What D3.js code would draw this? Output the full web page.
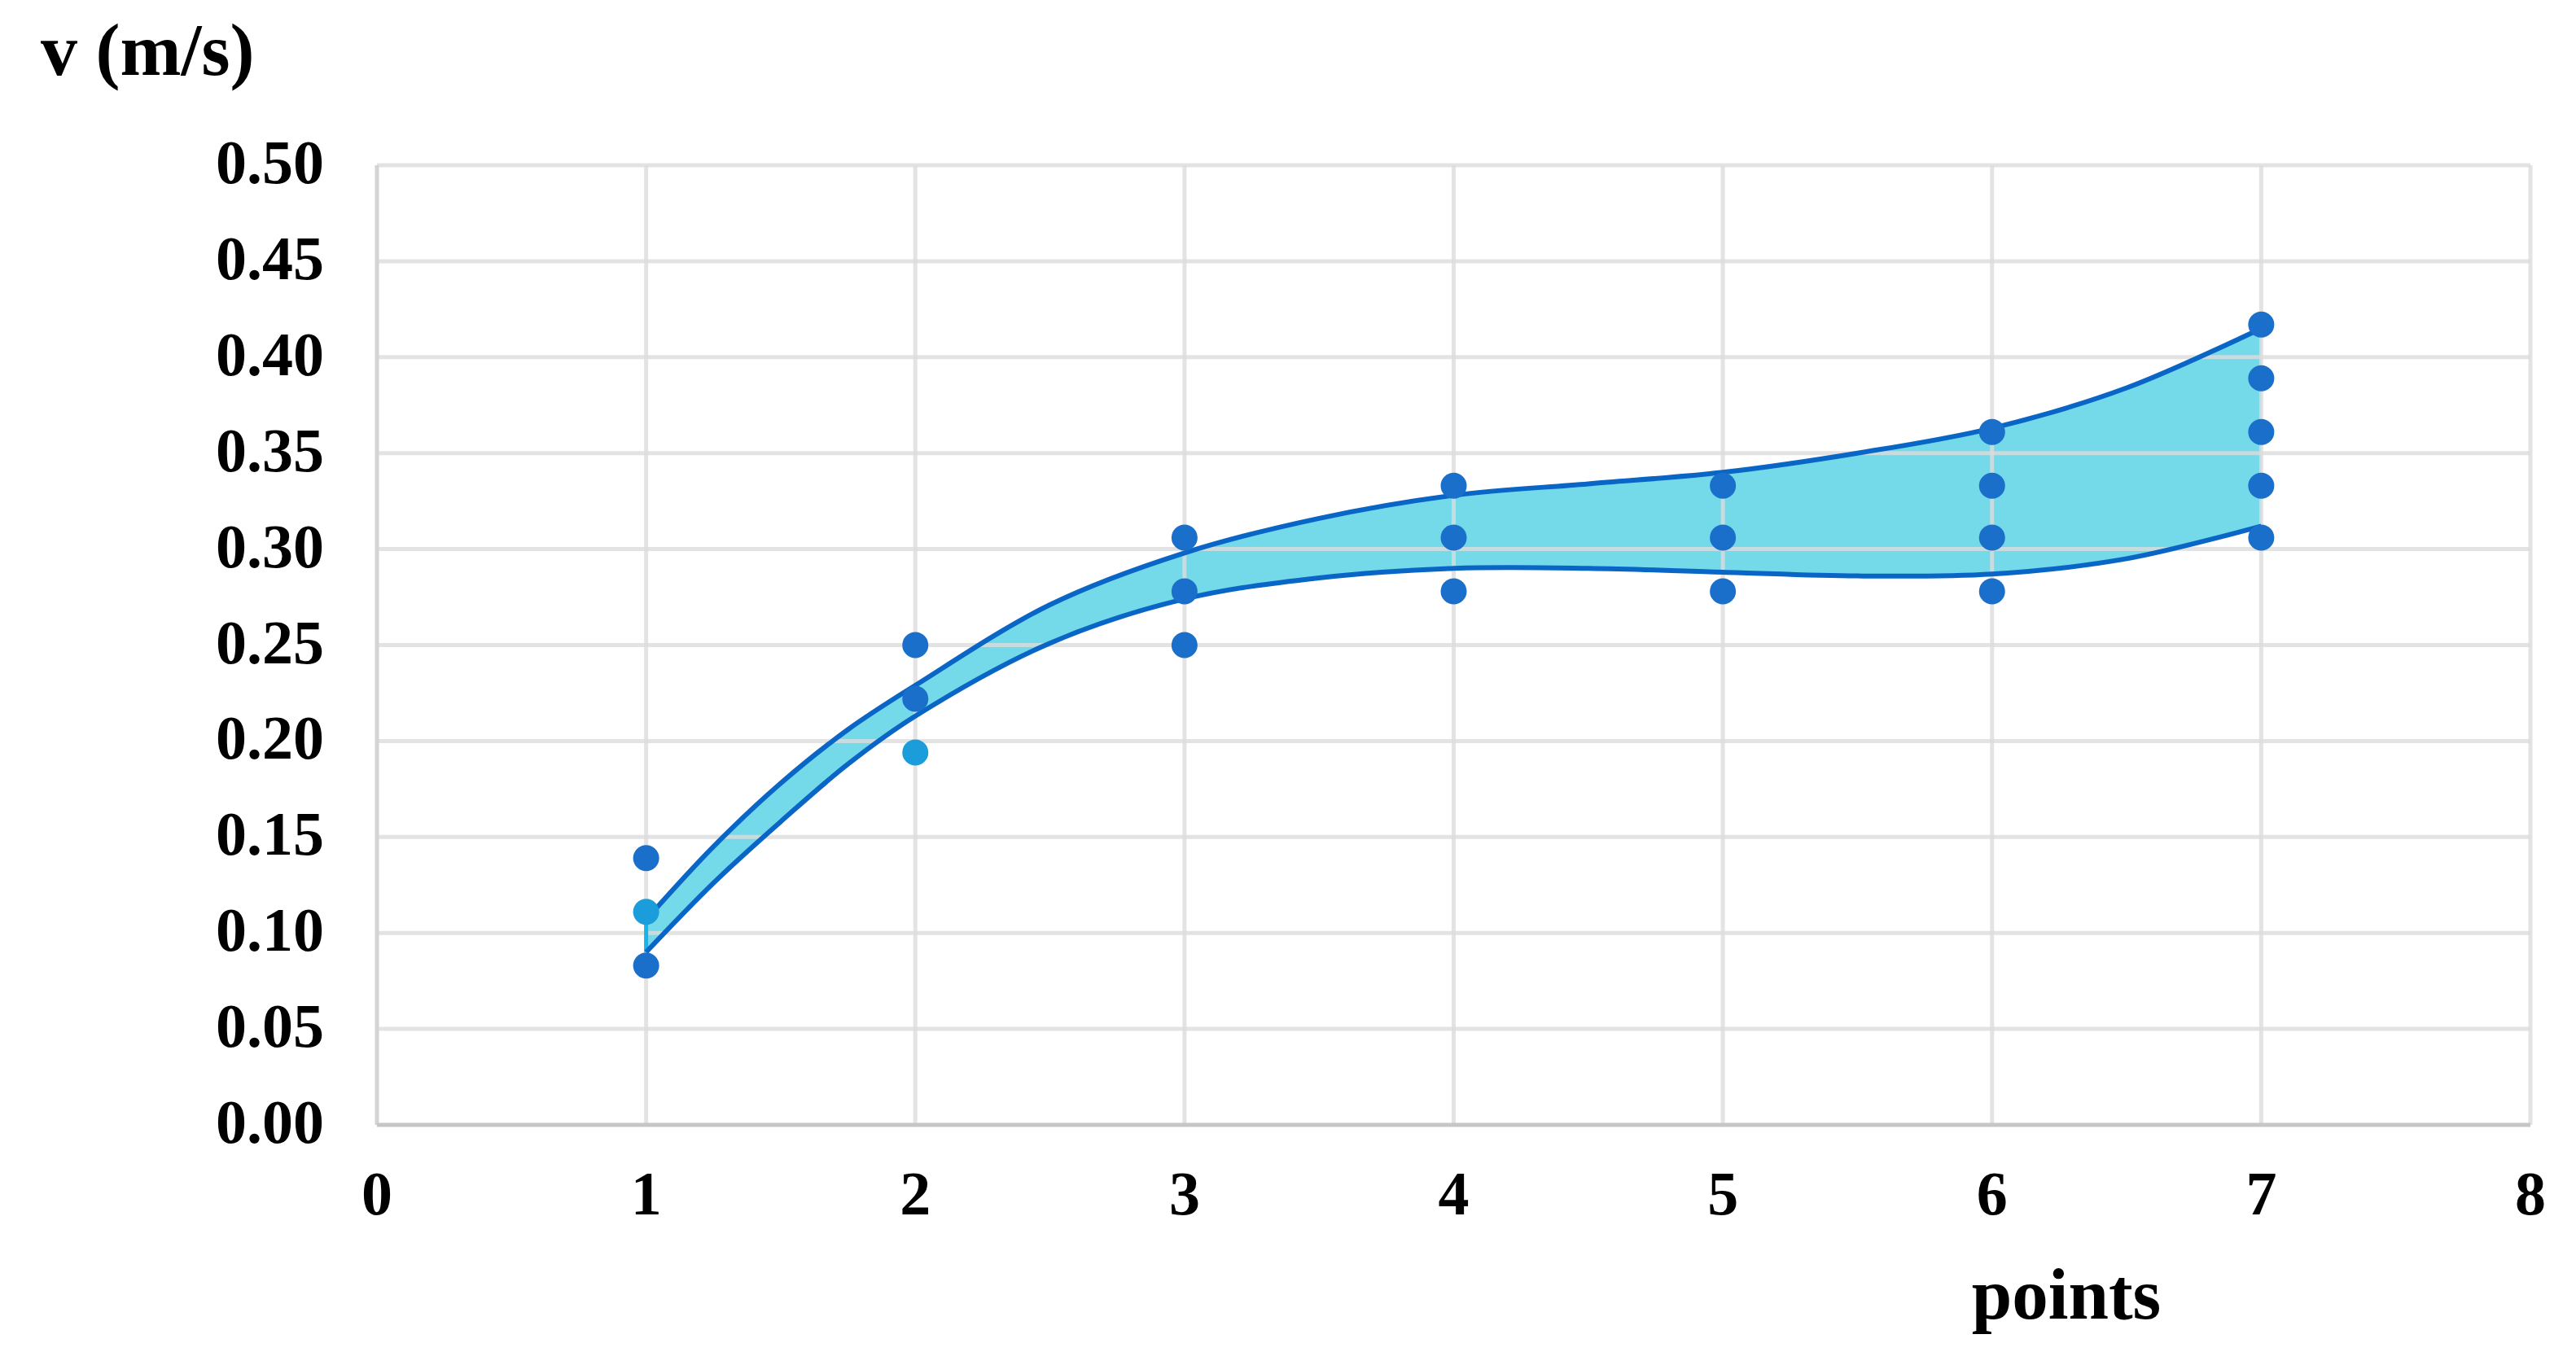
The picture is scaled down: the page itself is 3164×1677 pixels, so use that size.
<!DOCTYPE html>
<html>
<head>
<meta charset="utf-8">
<script src="https://cdn.jsdelivr.net/npm/d3@7"></script>
<style>
  html, body { margin: 0; padding: 0; background: #fff; }
  text { font-family: "Liberation Serif", "Times New Roman", serif; font-weight: bold; fill: #000; }
</style>
</head>
<body>
<div id="chart"></div>
<script>
// tick labels
const xTicks = [0, 1, 2, 3, 4, 5, 6, 7, 8];
const yTicks = [0, 0.05, 0.10, 0.15, 0.20, 0.25, 0.30, 0.35, 0.40, 0.45, 0.50];

// measured points (dark blue)
const darkX = [1, 1, 2, 2, 3, 3, 3, 4, 4, 4, 5, 5, 5, 6, 6, 6, 6, 7, 7, 7, 7, 7];
const darkV = [0.083, 0.139, 0.222, 0.250, 0.250, 0.278, 0.306, 0.278, 0.306, 0.333,
               0.278, 0.306, 0.333, 0.278, 0.306, 0.333, 0.361, 0.306, 0.333, 0.361, 0.389, 0.417];
// measured points (light blue)
const lightX = [1, 2];
const lightV = [0.111, 0.194];

// upper and lower trend curves
const curveX = [1, 1.25, 1.5, 1.75, 2, 2.5, 3, 3.5, 4, 4.5, 5, 5.5, 6, 6.5, 7];
const upperV = [0.107, 0.145, 0.178, 0.206, 0.229, 0.271, 0.298, 0.316, 0.328, 0.334, 0.340, 0.350, 0.363, 0.384, 0.415];
const lowerV = [0.090, 0.126, 0.158, 0.188, 0.213, 0.251, 0.274, 0.285, 0.290, 0.290, 0.288, 0.286, 0.287, 0.295, 0.312];

const margin = {top: 203, right: 56, bottom: 295, left: 463},
  width = 3164 - margin.left - margin.right,
  height = 1677 - margin.top - margin.bottom;

const svg = d3.select("#chart")
  .append("svg")
    .attr("width", 3164)
    .attr("height", 1677)
  .append("g")
    .attr("transform", `translate(${margin.left},${margin.top})`);

const x = d3.scaleLinear()
  .domain([0, 8])
  .range([0, width]);

const y = d3.scaleLinear()
  .domain([0, 0.5])
  .range([height, 0]);

const smooth = d3.curveCatmullRom.alpha(0.5);

// band between the two curves
const band = curveX.map((d, i) => ({x: d, lo: lowerV[i], hi: upperV[i]}));

svg.append("path")
  .datum(band)
  .attr("fill", "#74d9e9")
  .attr("d", d3.area()
    .curve(smooth)
    .x(d => x(d.x))
    .y0(d => y(d.lo))
    .y1(d => y(d.hi)));

// grid (drawn over the band, as in the original)
svg.append("g")
  .selectAll("line")
  .data(yTicks.slice(1))
  .join("line")
    .attr("x1", 0)
    .attr("x2", width)
    .attr("y1", d => y(d))
    .attr("y2", d => y(d))
    .attr("stroke", "#dcdcdc")
    .attr("stroke-opacity", 0.8)
    .attr("stroke-width", 5);

svg.append("g")
  .selectAll("line")
  .data(xTicks.slice(1))
  .join("line")
    .attr("x1", d => x(d))
    .attr("x2", d => x(d))
    .attr("y1", 0)
    .attr("y2", height)
    .attr("stroke", "#dcdcdc")
    .attr("stroke-opacity", 0.8)
    .attr("stroke-width", 5);

// left border and bottom axis line
svg.append("line")
  .attr("x1", 0).attr("x2", 0)
  .attr("y1", 0).attr("y2", height)
  .attr("stroke", "#d4d4d4")
  .attr("stroke-width", 5);

svg.append("line")
  .attr("x1", 0).attr("x2", width)
  .attr("y1", height).attr("y2", height)
  .attr("stroke", "#c6c6c6")
  .attr("stroke-width", 5);

// little closing edge of the band at x = 1
svg.append("line")
  .attr("x1", x(curveX[0])).attr("x2", x(curveX[0]))
  .attr("y1", y(lowerV[0])).attr("y2", y(upperV[0]))
  .attr("stroke", "#14b4ec")
  .attr("stroke-width", 5);

// curves
[upperV, lowerV].forEach(vals => {
  svg.append("path")
    .datum(curveX.map((d, i) => ({x: d, v: vals[i]})))
    .attr("fill", "none")
    .attr("stroke", "#0a66c6")
    .attr("stroke-width", 6)
    .attr("d", d3.line()
      .curve(smooth)
      .x(d => x(d.x))
      .y(d => y(d.v)));
});

// points
svg.append("g")
  .selectAll("circle")
  .data(darkX.map((d, i) => ({x: d, v: darkV[i]})))
  .join("circle")
    .attr("cx", d => x(d.x))
    .attr("cy", d => y(d.v))
    .attr("r", 16)
    .attr("fill", "#1a6fcb");

svg.append("g")
  .selectAll("circle")
  .data(lightX.map((d, i) => ({x: d, v: lightV[i]})))
  .join("circle")
    .attr("cx", d => x(d.x))
    .attr("cy", d => y(d.v))
    .attr("r", 16)
    .attr("fill", "#1c9ddb");

// tick labels
svg.append("g")
  .selectAll("text")
  .data(yTicks)
  .join("text")
    .attr("x", -65)
    .attr("y", d => y(d) + 22)
    .style("text-anchor", "end")
    .style("font-size", "76px")
    .text(d3.format(".2f"));

svg.append("g")
  .selectAll("text")
  .data(xTicks)
  .join("text")
    .attr("x", d => x(d))
    .attr("y", height + 110)
    .style("text-anchor", "middle")
    .style("font-size", "76px")
    .text(d => d);

// axis titles
svg.append("text")
  .attr("x", 50 - margin.left)
  .attr("y", 92 - margin.top)
  .style("text-anchor", "start")
  .style("font-size", "90px")
  .text("v (m/s)");

svg.append("text")
  .attr("x", 2538 - margin.left)
  .attr("y", 1620 - margin.top)
  .style("text-anchor", "middle")
  .style("font-size", "89px")
  .text("points");
</script>
</body>
</html>
